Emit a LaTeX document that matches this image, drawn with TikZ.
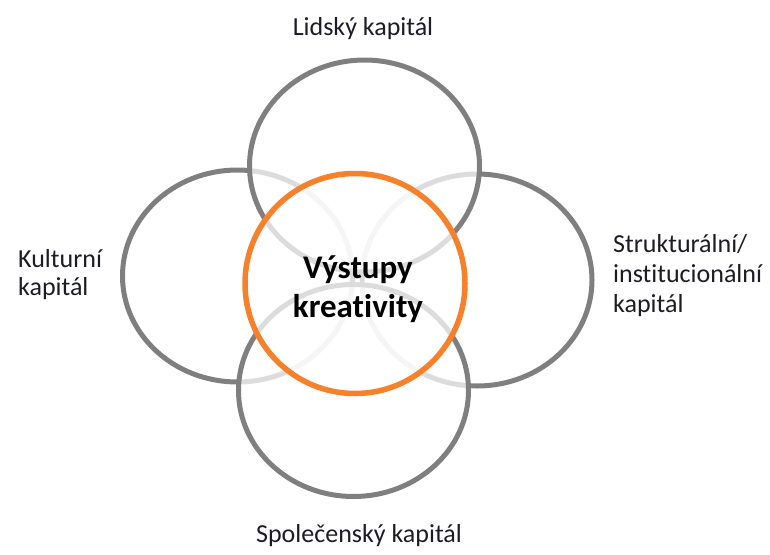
\documentclass[tikz,border=0pt]{standalone}
\usepackage{fontspec}
\setmainfont{Carlito}[Ligatures=NoCommon]
\usetikzlibrary{positioning}
\definecolor{ringgray}{HTML}{7F7F7F}
\definecolor{ringorange}{HTML}{F7812B}
\definecolor{labeltext}{HTML}{1C1C24}

\begin{document}
\begin{tikzpicture}[x=1pt,y=-1pt,
    capring/.style={draw=ringgray,line width=5pt,fill=white,fill opacity=0.73},
    captext/.style={inner sep=0pt,text=labeltext,font=\fontsize{26}{29.5}\selectfont}]

    \useasboundingbox (0,0) rectangle (770,554);

    % the four kinds of capital
    \draw[capring] (237.5,276) ellipse [x radius=115, y radius=106];
    \draw[capring] (477,280) ellipse [x radius=115, y radius=106];
    \draw[capring] (364.5,166) ellipse [x radius=115, y radius=106];
    \draw[capring] (353.5,390.5) ellipse [x radius=115, y radius=106];

    % outputs in the middle
    \draw[capring,draw=ringorange,line width=5.5pt] (355,283.5) circle (110);

    \node[captext,anchor=base] (lidsky) at (363,35) {Lidský kapitál};
    \node[captext,anchor=base west,align=left,font=\fontsize{26}{28}\selectfont] (kulturni) at (18,295) {Kulturní\\kapitál};
    \node[captext,anchor=base west,align=left,font=\fontsize{26}{30}\selectfont] (strukturalni) at (613,312)
        {Strukturální/\\institucionální\\kapitál};
    \node[captext,anchor=base] (spolecensky) at (359,542) {Společenský kapitál};
    \node[captext,anchor=base,align=center,font=\fontsize{33}{39}\selectfont\bfseries,text=black]
        (vystupy) at (358,317) {Výstupy\\kreativity};
\end{tikzpicture}
\end{document}
